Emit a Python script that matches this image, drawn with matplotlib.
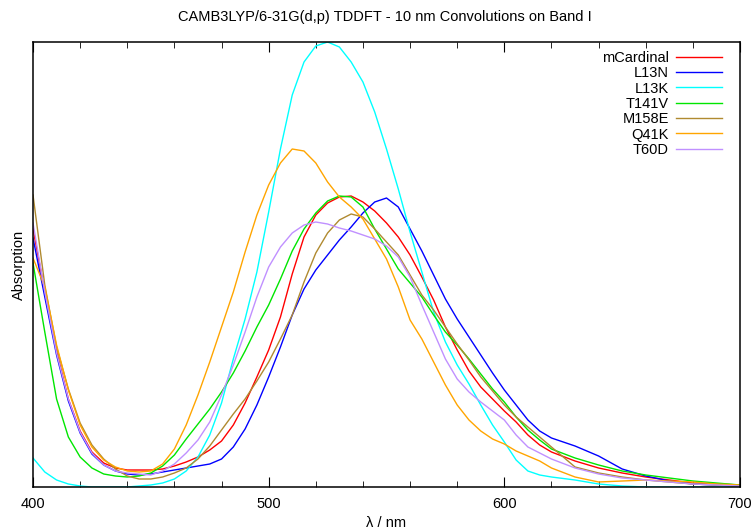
import numpy as np
import matplotlib
matplotlib.use('Agg')
import matplotlib.pyplot as plt

plt.rcParams['font.family'] = ['Liberation Sans', 'DejaVu Sans']

# wavelength grid (nm)
wl = list(range(400, 625, 5)) + list(range(630, 710, 10))

# absorption, arbitrary units
mcardinal = [258, 196, 136, 88, 56, 35, 24, 19, 17, 17, 17, 18, 21, 25, 30, 37, 46, 62, 84, 110,
             137, 170, 213, 250, 272, 284, 290, 291, 285, 276, 264, 250, 232, 210, 187, 160, 137, 116, 100, 88,
             76, 65, 52, 42, 35, 26, 19, 14, 10, 7, 4, 3, 2]
l13n = [249, 190, 132, 86, 54, 33, 22, 16, 13, 12, 13, 15, 17, 19, 21, 23, 28, 40, 58, 82,
        110, 140, 172, 198, 217, 232, 247, 260, 274, 285, 289, 280, 258, 236, 212, 188, 168, 150, 132, 114,
        97, 82, 67, 56, 49, 41, 31, 18, 11, 6, 3, 2, 1]
l13k = [29, 15, 7, 3, 1, 0, 0, 0, 0, 1, 2, 4, 8, 16, 30, 52, 84, 128, 168, 215,
        275, 338, 392, 425, 441, 445, 440, 425, 405, 375, 338, 298, 255, 215, 175, 145, 122, 103, 82, 62,
        45, 27, 16, 12, 10, 7, 3, 1, 0, 0, 0, 0, 0]
t141v = [224, 155, 88, 50, 30, 19, 13, 11, 10, 11, 14, 21, 32, 48, 63, 78, 95, 114, 136, 160,
         182, 208, 236, 258, 274, 286, 291, 290, 280, 258, 238, 218, 204, 190, 172, 155, 142, 128, 113, 98,
         85, 70, 57, 47, 38, 29, 22, 16, 12, 9, 6, 4, 2]
m158e = [292, 202, 140, 98, 64, 42, 28, 18, 11, 8, 8, 10, 14, 19, 28, 41, 57, 73, 88, 106,
         125, 148, 172, 205, 234, 254, 267, 273, 270, 258, 245, 232, 212, 192, 177, 160, 143, 127, 110, 96,
         82, 70, 60, 50, 40, 20, 14, 10, 7, 5, 3, 2, 1]
q41k = [229, 200, 142, 97, 62, 40, 27, 20, 16, 15, 16, 23, 38, 62, 92, 125, 160, 195, 235, 272,
        302, 324, 338, 336, 324, 305, 290, 280, 268, 248, 228, 200, 167, 148, 125, 102, 82, 67, 56, 48,
        43, 36, 31, 26, 19, 10, 5, 6, 7, 6, 5, 3, 2]
t60d = [264, 195, 134, 88, 55, 34, 22, 16, 14, 13, 12, 16, 23, 34, 47, 65, 92, 122, 155, 190,
        220, 240, 254, 262, 265, 263, 259, 256, 252, 248, 241, 230, 210, 182, 155, 128, 108, 95, 85, 76,
        67, 52, 40, 34, 28, 19, 13, 9, 7, 5, 3, 2, 1]

names = ['mCardinal', 'L13N', 'L13K', 'T141V', 'M158E', 'Q41K', 'T60D']
series = [mcardinal, l13n, l13k, t141v, m158e, q41k, t60d]
colors = ['#ff0000', '#0000ff', '#00ffff', '#00e600', '#b08a30', '#ffa500', '#c090ff']

fs = 10.5

fig = plt.figure(figsize=(7.55, 5.31), dpi=100)
ax = fig.add_axes([33/755., 1-487/531., 707/755., 445/531.])

for y, n, c in zip(series, names, colors):
    ax.plot(wl, y, '-', color=c, lw=1.0, label=n)

ax.set_xlim(400, 700)
ax.set_ylim(0, 445)
ax.set_xticks([400, 500, 600, 700])
ax.set_xticks(np.arange(400, 701, 20), minor=True)
ax.set_yticks([])
ax.tick_params(axis='x', which='both', direction='in', top=True, labelsize=fs, pad=7)
ax.tick_params(axis='x', which='major', length=7)
ax.tick_params(axis='x', which='minor', length=4)
for s in ax.spines.values():
    s.set_linewidth(1.1)

ax.set_xlabel(u'\u03bb / nm', fontsize=fs, labelpad=4)
ax.set_ylabel('Absorption', fontsize=fs, labelpad=5)
fig.text(0.51, 1-17/531., 'CAMB3LYP/6-31G(d,p) TDDFT - 10 nm Convolutions on Band I',
         ha='center', va='center', fontsize=fs)

leg = ax.legend(loc='upper right', bbox_to_anchor=(0.983, 0.993), markerfirst=False,
                frameon=False, fontsize=fs, handlelength=3.15, handletextpad=0.5,
                labelspacing=0.09, borderaxespad=0.0)

plt.savefig('out.png', dpi=100)
